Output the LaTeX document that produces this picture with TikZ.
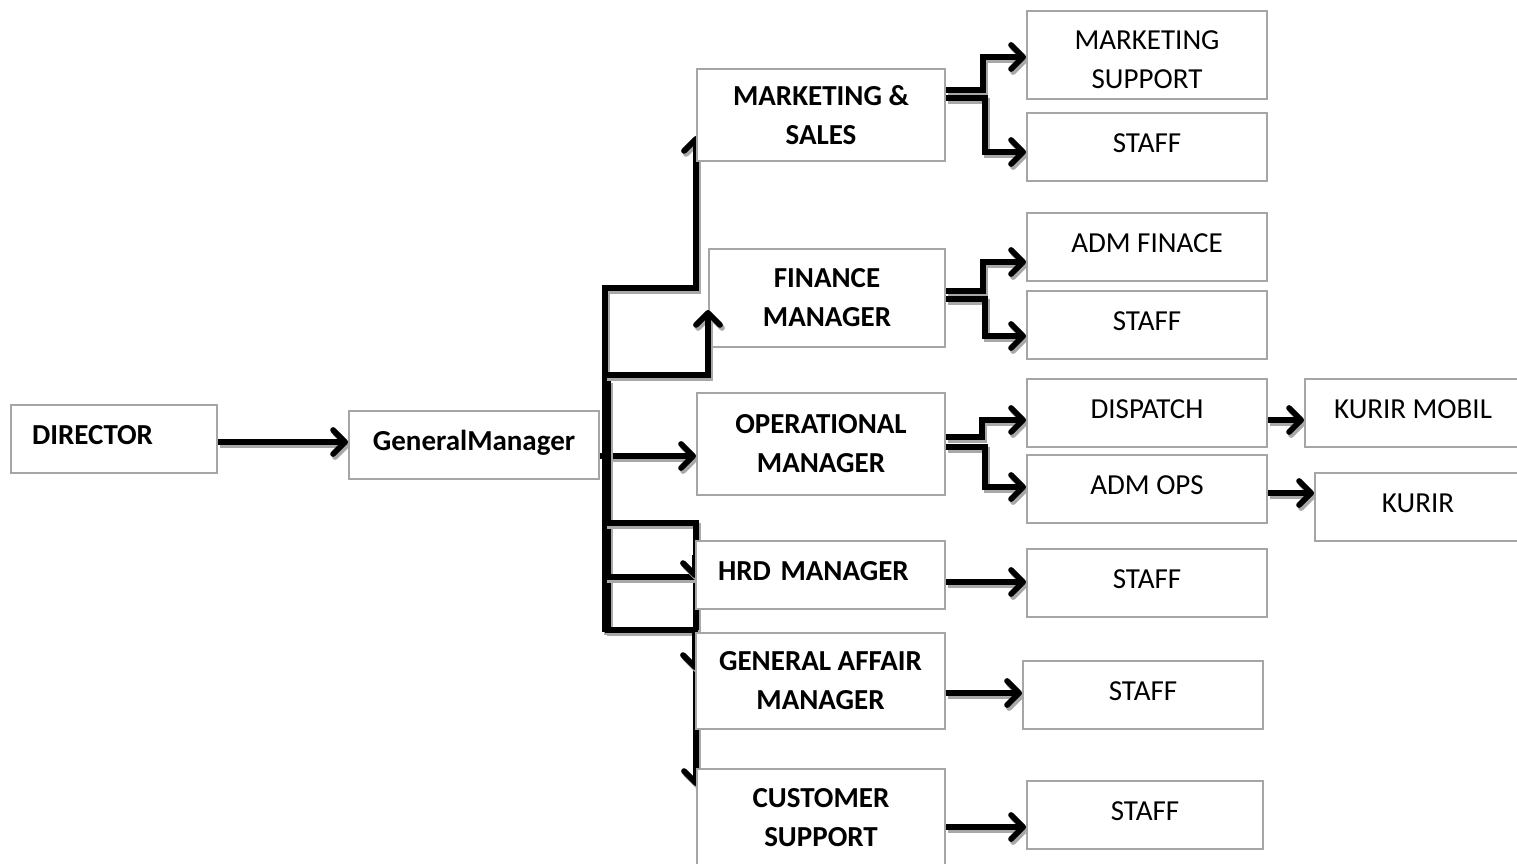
\documentclass[tikz,border=0pt]{standalone}
\usepackage{fontspec}
\setmainfont{Carlito}
\usetikzlibrary{arrows.meta,backgrounds}
\definecolor{boxgray}{HTML}{A6A6A6}
\definecolor{shadowgray}{HTML}{A8A8A8}
\begin{document}
\begin{tikzpicture}[x=1pt,y=-1pt,
  box/.style={draw=boxgray, line width=2pt, fill=white, anchor=north west, inner xsep=0pt, inner ysep=0pt, align=center, font=\fontsize{29}{39}\selectfont},
  bbox/.style={box, font=\fontsize{29}{39}\selectfont\bfseries},
  one/.style={text height=20pt, text depth=10pt},
  conn/.style={line width=5.8pt, line join=miter, preaction={draw=shadowgray, line width=5.8pt, transform canvas={shift={(2pt,-3pt)}}}},
  >={Straight Barb[length=12pt,width=24pt,round]}
]
\useasboundingbox (0,0) rectangle (1517,864);
% left column
\node[bbox, one, minimum height=68pt, text width=164pt, inner xsep=21pt, align=left] (dir) at (10,404) {DIRECTOR};
\node[bbox, one, minimum width=250pt, minimum height=68pt] (gm) at (348,410) {GeneralManager};
% managers
\node[bbox, minimum width=248pt, minimum height=92pt] (mkt) at (696,68) {MARKETING \&\\SALES};
\node[bbox, minimum width=236pt, minimum height=98pt] (fin) at (708,248) {FINANCE\\MANAGER};
\node[bbox, minimum width=248pt, minimum height=102pt] (ops) at (696,392) {OPERATIONAL\\MANAGER};
\node[bbox, one, minimum height=68pt, text width=205pt, inner xsep=22pt, align=left] (hrd) at (695,540) {HRD MANAGER};
\node[bbox, minimum width=249pt, minimum height=96pt] (ga) at (695,632) {GENERAL AFFAIR\\MANAGER};
\node[bbox, minimum width=248pt, minimum height=97pt] (cs) at (696,768) {CUSTOMER\\SUPPORT};
% staff column
\node[box, text height=67pt, minimum width=240pt, minimum height=88pt] (msup) at (1026,10) {MARKETING\\SUPPORT};
\node[box, one, minimum width=240pt, minimum height=68pt] (st1) at (1026,112) {STAFF};
\node[box, one, minimum width=240pt, minimum height=68pt] (admf) at (1026,212) {ADM FINACE};
\node[box, one, minimum width=240pt, minimum height=68pt] (st2) at (1026,290) {STAFF};
\node[box, one, minimum width=240pt, minimum height=68pt] (disp) at (1026,378) {DISPATCH};
\node[box, one, minimum width=240pt, minimum height=68pt] (admo) at (1026,454) {ADM OPS};
\node[box, one, minimum width=240pt, minimum height=68pt] (st3) at (1026,548) {STAFF};
\node[box, one, minimum width=240pt, minimum height=68pt] (st4) at (1022,660) {STAFF};
\node[box, one, minimum width=236pt, minimum height=68pt] (st5) at (1026,780) {STAFF};
\node[box, one, minimum width=216pt, minimum height=68pt] (km) at (1304,378) {KURIR MOBIL};
\node[box, one, minimum width=206pt, minimum height=68pt] (kur) at (1314,472) {KURIR};

\begin{pgfonlayer}{background}
\draw[conn,->] (dir.east |- 0,442) -- (gm.west |- 0,442);
\draw[conn,->] (gm.east |- 0,456) -- (ops.west |- 0,456);
% trunk and bracket to marketing
\draw[conn,->] (605,632) -- (605,288) -- (mkt.west |- 0,288) -- (mkt.west |- 0,136);
\draw[conn] (608,380) -- (608,632);
% lower brackets
\draw[conn,->] (605,523) -- (cs.west |- 0,523) -- (cs.west |- 0,786);
\draw[conn] (605,577) -- (hrd.west |- 0,577);
\draw[conn,->] (hrd.west |- 0,555) -- (hrd.west |- 0,578);
\draw[conn,->] (605,630) -- (ga.west |- 0,630) -- (ga.west |- 0,670);
% right side
\draw[conn,->] (mkt.east |- 0,90) -- (983,90) -- (983,57) -- (msup.west |- 0,57);
\draw[conn,->] (mkt.east |- 0,98) -- (985,98) -- (985,152) -- (st1.west |- 0,152);
\draw[conn,->] (fin.east |- 0,291) -- (983,291) -- (983,262) -- (admf.west |- 0,262);
\draw[conn,->] (fin.east |- 0,299) -- (985,299) -- (985,336) -- (st2.west |- 0,336);
\draw[conn,->] (ops.east |- 0,437) -- (982,437) -- (982,420) -- (disp.west |- 0,420);
\draw[conn,->] (ops.east |- 0,447) -- (985,447) -- (985,487) -- (admo.west |- 0,487);
\draw[conn,->] (hrd.east |- 0,582) -- (st3.west |- 0,582);
\draw[conn,->] (ga.east |- 0,693) -- (st4.west |- 0,693);
\draw[conn,->] (cs.east |- 0,827) -- (st5.west |- 0,827);
\draw[conn,->] (disp.east |- 0,420) -- (km.west |- 0,420);
\draw[conn,->] (admo.east |- 0,493) -- (kur.west |- 0,493);
\end{pgfonlayer}
% arrow into finance drawn on top
\draw[conn,->] (605,375) -- (fin.west |- 0,375) -- (fin.west |- 0,310);
\end{tikzpicture}
\end{document}
